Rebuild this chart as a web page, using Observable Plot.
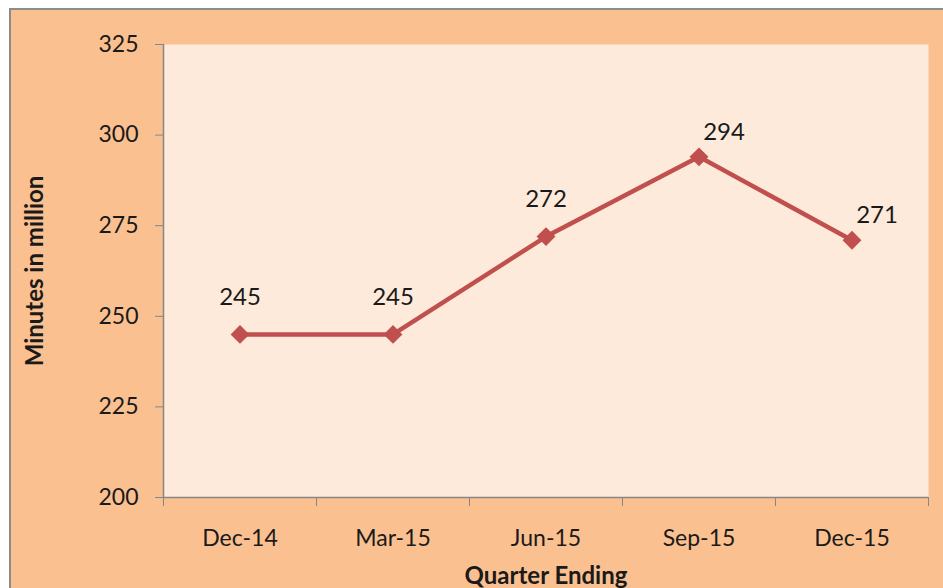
<!DOCTYPE html>
<html><head><meta charset="utf-8">
<script src="https://cdn.jsdelivr.net/npm/d3@7"></script>
<script src="https://cdn.jsdelivr.net/npm/@observablehq/plot@0.6"></script>
<style>
html,body{margin:0;padding:0;background:#fff;overflow:hidden;}
#bg{position:absolute;left:9px;top:8px;width:940px;height:590px;background:#FAC090;border-left:2px solid #8c8c8c;border-top:2px solid #8c8c8c;}
#chart{position:absolute;left:0;top:0;}
</style></head>
<body><div id="bg"></div><div id="chart"></div>
<script>
const quarters = ["Dec-14","Mar-15","Jun-15","Sep-15","Dec-15"];
const minutes = [245, 245, 272, 294, 271];
const yTicks = [200, 225, 250, 275, 300, 325];

const data = quarters.map((q, i) => ({q, i, v: minutes[i]}));
const font = "Lato, 'Open Sans', sans-serif";
const axisGray = "#868686";

const plot = Plot.plot({
  width: 943, height: 588,
  marginLeft: 163, marginRight: 15, marginTop: 44, marginBottom: 91,
  style: {background: "transparent", fontFamily: font, color: "#1a1a1a"},
  x: {type: "linear", domain: [0, quarters.length]},
  y: {domain: [200, 325]},
  marks: [
    Plot.frame({fill: "#FDEADA", stroke: null}),
    Plot.axisY({ticks: yTicks, tickSize: 8, tickPadding: 17, stroke: axisGray, fill: "#1a1a1a", fontSize: 23,
      label: "Minutes in million", labelAnchor: "center", labelOffset: 138, labelArrow: "none"}),
    Plot.axisX({ticks: d3.range(quarters.length + 1), tickSize: 9, stroke: axisGray, tickFormat: () => "", label: null}),
    Plot.axisX({ticks: quarters.map((q, i) => i + 0.5), tickSize: 0, tickPadding: 32, fill: "#1a1a1a", fontSize: 23,
      tickFormat: d => quarters[Math.floor(d)], label: "Quarter Ending", labelAnchor: "center", labelOffset: 86, labelArrow: "none"}),
    Plot.ruleX([0], {stroke: axisGray, strokeWidth: 1.5}),
    Plot.ruleY([200], {stroke: axisGray, strokeWidth: 1.5}),
    Plot.line(data, {x: d => d.i + 0.5, y: "v", stroke: "#C0504D", strokeWidth: 4.5}),
    Plot.dot(data, {x: d => d.i + 0.5, y: "v", symbol: "diamond2", r: 8.5, fill: "#C0504D", stroke: "none"}),
    Plot.text(data.filter(d => d.i < 3), {x: d => d.i + 0.5, y: "v", text: d => String(d.v), dy: -37, fontSize: 24, fill: "#1a1a1a"}),
    Plot.text(data.filter(d => d.i >= 3), {x: d => d.i + 0.5, y: "v", text: d => String(d.v), dx: 25, dy: -25, fontSize: 24, fill: "#1a1a1a"})
  ]
});
plot.querySelectorAll('g[aria-label="y-axis label"], g[aria-label="x-axis label"]').forEach(g => {
  g.setAttribute("font-weight", "bold"); g.setAttribute("font-size", "24"); g.setAttribute("fill", "#1a1a1a");
});
document.getElementById("chart").appendChild(plot);
</script>
</body></html>
